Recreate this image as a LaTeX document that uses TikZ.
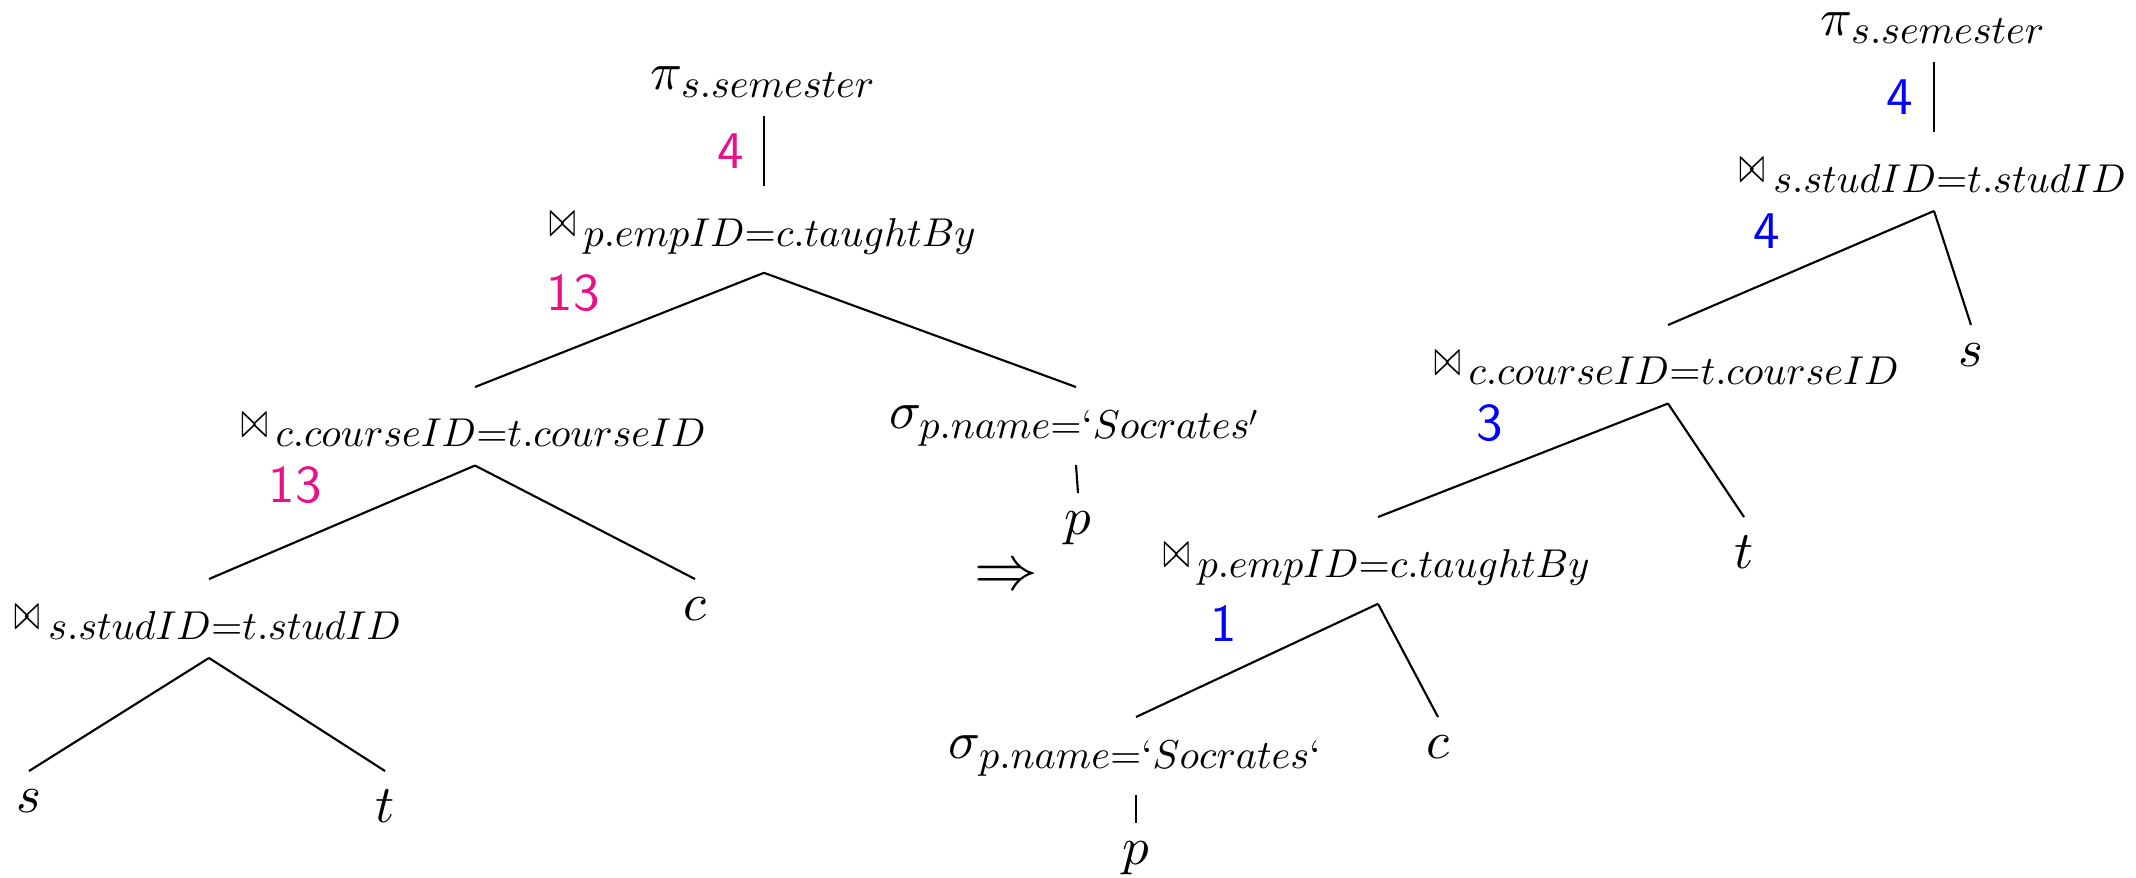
\documentclass[tikz,border=0pt]{standalone}
\usepackage{amssymb}
\usepackage{graphicx}
\DeclareFontShape{OML}{cmm}{m}{it}{<->cmmi10}{\skewchar\font'177}
\DeclareFontShape{OT1}{cmr}{m}{n}{<->cmr10}{}
\DeclareFontShape{OMS}{cmsy}{m}{n}{<->cmsy10}{\skewchar\font'60}
\DeclareMathSizes{10}{10}{7.6}{5.5}
\newcommand\myjoin{\mathrel{\rule{0pt}{6pt}\resizebox{4.9pt}{4.5pt}{$\bowtie$}\hspace{1.5pt}}}
\definecolor{cpink}{RGB}{232,17,138}
\definecolor{cblue}{RGB}{0,0,255}
\begin{document}
\begin{tikzpicture}[x=0.1887pt,y=-0.1887pt,
  op/.style={inner sep=0.3333em},
  pinknum/.style={text=cpink,font=\sffamily},
  bluenum/.style={text=cblue,font=\sffamily},
  edge/.style={draw,line width=0.4pt}]
\useasboundingbox (0,0) rectangle (2136,877);
% left tree
\node[op,anchor=south] (piL) at (764,116) {$\pi_{s.semester}$};
\node[op,anchor=north] (j1L) at (764,186) {$\myjoin_{p.empID=c.taughtBy}$};
\node[op,anchor=north] (j2L) at (475,387) {$\myjoin_{c.courseID=t.courseID}$};
\node[op,anchor=north] (sigL) at (1076,387) {$\sigma_{p.name=`Socrates'}$};
\node[op,anchor=north] (j3L) at (209,579) {$\myjoin_{s.studID=t.studID}$};
\node[op,anchor=north] (cL) at (695,579) {$c$};
\node[op,anchor=north] (sL) at (29,771) {$s$};
\node[op,anchor=north] (tL) at (385,771) {$t$};
\node[op,anchor=north] (pL) at (1078,493) {$p$};
\draw[edge] (piL.south) -- (j1L.north);
\draw[edge] (j1L.south) -- (j2L.north);
\draw[edge] (j1L.south) -- (sigL.north);
\draw[edge] (j2L.south) -- (j3L.north);
\draw[edge] (j2L.south) -- (cL.north);
\draw[edge] (j3L.south) -- (sL.north);
\draw[edge] (j3L.south) -- (tL.north);
\draw[edge] (sigL.south) -- (pL.north);
\node[pinknum] (nL1) at (731,151) {4};
\node[pinknum] (nL2) at (573,293) {13};
\node[pinknum] (nL3) at (295,485) {13};
% arrow
\node[font=\fontsize{12}{14}\selectfont] (arr) at (1006,578) {$\Rightarrow$};
% right tree
\node[op,anchor=south] (piR) at (1934,62) {$\pi_{s.semester}$};
\node[op,anchor=north] (j1R) at (1934,132) {$\myjoin_{s.studID=t.studID}$};
\node[op,anchor=north] (j2R) at (1668,325) {$\myjoin_{c.courseID=t.courseID}$};
\node[op,anchor=north] (sR) at (1971,325) {$s$};
\node[op,anchor=north] (j3R) at (1378,517) {$\myjoin_{p.empID=c.taughtBy}$};
\node[op,anchor=north] (tR) at (1744,517) {$t$};
\node[op,anchor=north] (sigR) at (1136,717) {$\sigma_{p.name=`Socrates`}$};
\node[op,anchor=north] (cR) at (1438,717) {$c$};
\node[op,anchor=north] (pR) at (1136,823) {$p$};
\draw[edge] (piR.south) -- (j1R.north);
\draw[edge] (j1R.south) -- (j2R.north);
\draw[edge] (j1R.south) -- (sR.north);
\draw[edge] (j2R.south) -- (j3R.north);
\draw[edge] (j2R.south) -- (tR.north);
\draw[edge] (j3R.south) -- (sigR.north);
\draw[edge] (j3R.south) -- (cR.north);
\draw[edge] (sigR.south) -- (pR.north);
\node[bluenum] (nR1) at (1900,97) {4};
\node[bluenum] (nR2) at (1767,231) {4};
\node[bluenum] (nR3) at (1490,423) {3};
\node[bluenum] (nR4) at (1224,624) {1};
\end{tikzpicture}
\end{document}
